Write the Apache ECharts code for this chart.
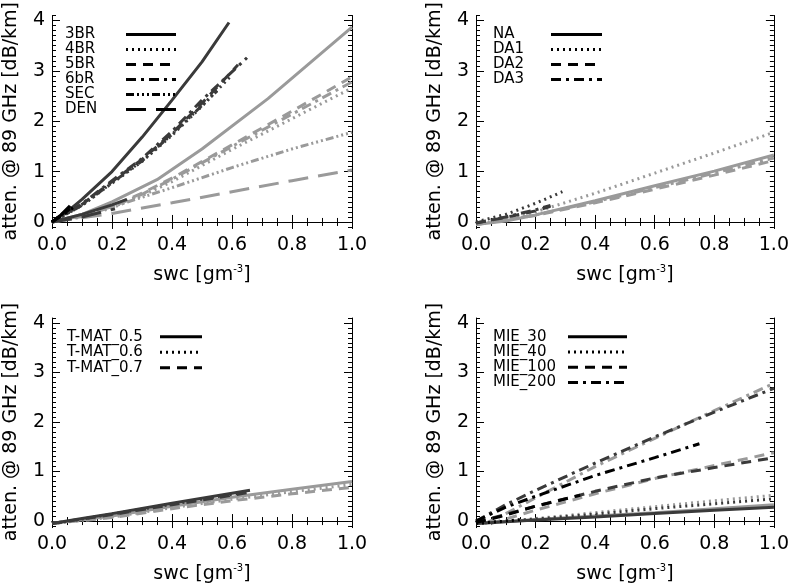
<!DOCTYPE html>
<html><head><meta charset="utf-8">
<script src="https://cdn.jsdelivr.net/npm/echarts@6/dist/echarts.min.js"></script>
<style>html,body{margin:0;padding:0;background:#fff}#c{width:792px;height:586px}</style>
</head><body><div id="c"></div>
<script>
// ---- tick labels / titles ----
const xTickValues = [0, 0.2, 0.4, 0.6, 0.8, 1.0];
const yTickValues = [0, 1, 2, 3, 4];
const xTitle = 'swc [gm{sup|-3}]';
const yTitle = 'atten. @ 89 GHz [dB/km]';

// ---- legend names ----
const legendA = ['3BR', '4BR', '5BR', '6bR', 'SEC', 'DEN'];
const legendB = ['NA', 'DA1', 'DA2', 'DA3'];
const legendC = ['T-MAT_0.5', 'T-MAT_0.6', 'T-MAT_0.7'];
const legendD = ['MIE_30', 'MIE_40', 'MIE_100', 'MIE_200'];

// ---- panel A (top-left) : [swc, attenuation] ----
const a3BR_gray  = [[0,0],[0.1,0.15],[0.2,0.4],[0.35,0.84],[0.5,1.45],[0.72,2.45],[1.0,3.87]];
const a4BR_gray  = [[0,0],[0.1,0.1],[0.2,0.28],[0.3,0.52],[0.4,0.8],[0.6,1.44],[0.8,2.05],[1.0,2.66]];
const a5BR_gray  = [[0,0],[0.1,0.12],[0.2,0.32],[0.3,0.57],[0.4,0.87],[0.6,1.53],[0.8,2.2],[1.0,2.88]];
const a6bR_gray  = [[0,0],[0.1,0.11],[0.2,0.3],[0.3,0.55],[0.4,0.85],[0.6,1.5],[0.8,2.14],[1.0,2.78]];
const aSEC_gray  = [[0,0],[0.2,0.3],[0.4,0.68],[0.6,1.08],[0.8,1.45],[1.0,1.78]];
const aDEN_gray  = [[0,0],[0.2,0.17],[0.4,0.38],[0.6,0.6],[0.8,0.82],[1.0,1.03]];
const a3BR_dark  = [[0,0],[0.05,0.2],[0.1,0.45],[0.2,1.0],[0.3,1.68],[0.4,2.42],[0.5,3.18],[0.59,3.96]];
const a3BR_dark2 = [[0,0],[0.1,0.15],[0.2,0.34],[0.25,0.45]];
const a4BR_dark  = [[0,0],[0.1,0.33],[0.2,0.77],[0.3,1.2],[0.4,1.72],[0.5,2.3],[0.6,2.92]];
const a5BR_dark  = [[0,0],[0.1,0.35],[0.2,0.8],[0.3,1.24],[0.4,1.76],[0.5,2.36],[0.62,3.12]];
const a6bR_dark  = [[0,0],[0.1,0.36],[0.2,0.82],[0.3,1.26],[0.4,1.8],[0.5,2.42],[0.65,3.26]];
const aSEC_dark  = [[0,0],[0.1,0.33],[0.2,0.78],[0.3,1.21],[0.4,1.74],[0.55,2.6]];
const aDEN_dark  = [[0,0],[0.1,0.1],[0.21,0.26]];
const a3BR_black = [[0,0],[0.03,0.14],[0.06,0.32]];
const a4BR_black = [[0,0],[0.065,0.3]];
const a5BR_black = [[0,0],[0.06,0.26]];
const a6bR_black = [[0,0],[0.07,0.28]];

// ---- panel B (top-right) ----
const bNA_gray  = [[0,-0.05],[0.1,0.02],[0.2,0.14],[0.4,0.42],[0.6,0.72],[0.8,1.01],[1.0,1.33]];
const bDA1_gray = [[0,-0.05],[0.1,0.05],[0.2,0.2],[0.4,0.57],[0.6,0.97],[0.8,1.37],[1.0,1.78]];
const bDA2_gray = [[0,-0.05],[0.2,0.13],[0.4,0.38],[0.6,0.65],[0.8,0.93],[1.0,1.22]];
const bDA3_gray = [[0,-0.05],[0.2,0.14],[0.4,0.4],[0.6,0.68],[0.8,0.97],[1.0,1.27]];
const bDA1_dark = [[0,0],[0.1,0.15],[0.2,0.37],[0.29,0.6]];
const bDA2_dark = [[0,-0.02],[0.1,0.09],[0.2,0.22],[0.25,0.31]];
const bDA3_dark = [[0,-0.02],[0.1,0.1],[0.2,0.24],[0.25,0.33]];

// ---- panel C (bottom-left) ----
const cT5_gray = [[0,-0.05],[0.2,0.1],[0.4,0.3],[0.6,0.48],[0.8,0.64],[1.0,0.8]];
const cT6_gray = [[0,-0.05],[0.2,0.08],[0.4,0.27],[0.6,0.44],[0.8,0.59],[1.0,0.74]];
const cT7_gray = [[0,-0.05],[0.2,0.07],[0.4,0.25],[0.6,0.41],[0.8,0.55],[1.0,0.68]];
const cT5_dark = [[0,-0.05],[0.1,0.05],[0.2,0.15],[0.4,0.36],[0.6,0.56],[0.66,0.62]];
const cT6_dark = [[0,-0.05],[0.1,0.04],[0.2,0.14],[0.4,0.34],[0.6,0.54],[0.65,0.59]];
const cT7_dark = [[0,-0.05],[0.1,0.04],[0.2,0.13],[0.4,0.33],[0.6,0.52],[0.65,0.57]];

// ---- panel D (bottom-right) ----
const dM30_gray   = [[0,-0.05],[0.2,0.03],[0.4,0.1],[0.6,0.17],[0.8,0.25],[1.0,0.33]];
const dM40_gray   = [[0,-0.05],[0.2,0.05],[0.4,0.17],[0.6,0.29],[0.8,0.41],[1.0,0.52]];
const dM100_gray  = [[0.05,-0.05],[0.2,0.22],[0.4,0.55],[0.6,0.86],[0.8,1.12],[1.0,1.38]];
const dM200_gray  = [[0.03,-0.05],[0.1,0.15],[0.2,0.47],[0.4,1.1],[0.6,1.67],[0.8,2.23],[1.0,2.78]];
const dM30_dark   = [[0,-0.05],[0.2,0.02],[0.4,0.08],[0.6,0.15],[0.8,0.22],[1.0,0.28]];
const dM40_dark   = [[0,-0.05],[0.2,0.04],[0.4,0.14],[0.6,0.25],[0.8,0.35],[1.0,0.45]];
const dM100_dark  = [[0,-0.03],[0.2,0.3],[0.4,0.6],[0.6,0.87],[0.8,1.08],[1.0,1.28]];
const dM200_dark  = [[0,0],[0.1,0.33],[0.2,0.62],[0.4,1.17],[0.6,1.7],[0.8,2.2],[1.0,2.68]];
const dM40_black  = [[0,-0.05],[0.1,0],[0.15,0.03]];
const dM100_black = [[0,-0.03],[0.1,0.12],[0.2,0.3],[0.35,0.52]];
const dM200_black = [[0,0],[0.1,0.28],[0.2,0.5],[0.4,0.92],[0.6,1.28],[0.75,1.56]];

// ---- styles ----
const FONT = 'DejaVu Sans';
const COL = { gray: '#9a9a9a', dark: '#3a3a3a', black: '#000000' };
const DASH = {
  solid: 'solid',
  dot: [2, 4],
  dash: [10, 7],
  dashdot: [10, 5, 3, 5],
  dash3dot: [8, 3, 2, 3, 2, 3, 2, 3],
  longdash: [20, 10]
};
const grids = [
  { left: 52, top: 15, width: 300, height: 212 },
  { left: 476, top: 15, width: 301, height: 212 },
  { left: 52, top: 318, width: 300, height: 212 },
  { left: 476, top: 318, width: 301, height: 212 }
];

const series = [];
function add(name, data, g, col, dash) {
  series.push({
    type: 'line', name: name, data: data, xAxisIndex: 2 * g, yAxisIndex: 4 * g,
    symbol: 'none', showSymbol: false, smooth: false, silent: true,
    lineStyle: { color: COL[col], width: 3, type: DASH[dash] }
  });
}
// panel A
add('3BR', a3BR_gray, 0, 'gray', 'solid');
add('4BR', a4BR_gray, 0, 'gray', 'dot');
add('5BR', a5BR_gray, 0, 'gray', 'dash');
add('6bR', a6bR_gray, 0, 'gray', 'dashdot');
add('SEC', aSEC_gray, 0, 'gray', 'dash3dot');
add('DEN', aDEN_gray, 0, 'gray', 'longdash');
add('3BR', a3BR_dark, 0, 'dark', 'solid');
add('3BR', a3BR_dark2, 0, 'dark', 'solid');
add('4BR', a4BR_dark, 0, 'dark', 'dot');
add('5BR', a5BR_dark, 0, 'dark', 'dash');
add('6bR', a6bR_dark, 0, 'dark', 'dashdot');
add('SEC', aSEC_dark, 0, 'dark', 'dash3dot');
add('DEN', aDEN_dark, 0, 'dark', 'longdash');
add('3BR', a3BR_black, 0, 'black', 'solid');
add('4BR', a4BR_black, 0, 'black', 'dot');
add('5BR', a5BR_black, 0, 'black', 'dash');
add('6bR', a6bR_black, 0, 'black', 'dashdot');
// panel B
add('NA', bNA_gray, 1, 'gray', 'solid');
add('DA1', bDA1_gray, 1, 'gray', 'dot');
add('DA2', bDA2_gray, 1, 'gray', 'dash');
add('DA3', bDA3_gray, 1, 'gray', 'dashdot');
add('DA1', bDA1_dark, 1, 'dark', 'dot');
add('DA2', bDA2_dark, 1, 'dark', 'dash');
add('DA3', bDA3_dark, 1, 'dark', 'dashdot');
// panel C
add('T-MAT_0.5', cT5_gray, 2, 'gray', 'solid');
add('T-MAT_0.6', cT6_gray, 2, 'gray', 'dot');
add('T-MAT_0.7', cT7_gray, 2, 'gray', 'dash');
add('T-MAT_0.5', cT5_dark, 2, 'dark', 'solid');
add('T-MAT_0.6', cT6_dark, 2, 'dark', 'dot');
add('T-MAT_0.7', cT7_dark, 2, 'dark', 'dash');
// panel D
add('MIE_30', dM30_gray, 3, 'gray', 'solid');
add('MIE_40', dM40_gray, 3, 'gray', 'dot');
add('MIE_100', dM100_gray, 3, 'gray', 'dash');
add('MIE_200', dM200_gray, 3, 'gray', 'dashdot');
add('MIE_30', dM30_dark, 3, 'dark', 'solid');
add('MIE_40', dM40_dark, 3, 'dark', 'dot');
add('MIE_100', dM100_dark, 3, 'dark', 'dash');
add('MIE_200', dM200_dark, 3, 'dark', 'dashdot');
add('MIE_40', dM40_black, 3, 'black', 'dot');
add('MIE_100', dM100_black, 3, 'black', 'dash');
add('MIE_200', dM200_black, 3, 'black', 'dashdot');

// ---- axes ----
const xAxes = [], yAxes = [];
const axLine = { show: true, lineStyle: { color: '#000', width: 1 } };
grids.forEach(function (gr, g) {
  xAxes.push({
    type: 'value', gridIndex: g, position: 'bottom', min: 0, max: 1, interval: 0.2,
    axisLine: axLine, splitLine: { show: false },
    axisTick: { show: true, inside: true, length: 7, lineStyle: { color: '#000' } },
    minorTick: { show: true, splitNumber: 4, length: 4, lineStyle: { color: '#000' } },
    axisLabel: { margin: 9, fontFamily: FONT, fontSize: 19, color: '#000',
      formatter: function (v) { return v.toFixed(1); } },
    name: xTitle, nameLocation: 'middle', nameGap: 37,
    nameTextStyle: { fontFamily: FONT, fontSize: 19, color: '#000', lineHeight: 22,
      rich: { sup: { fontFamily: FONT, fontSize: 10, color: '#000', verticalAlign: 'top', lineHeight: 22 } } }
  });
  xAxes.push({
    type: 'value', gridIndex: g, position: 'top', min: 0, max: 1, interval: 0.2,
    axisLine: axLine, splitLine: { show: false }, axisLabel: { show: false },
    axisTick: { show: true, inside: true, length: 7, lineStyle: { color: '#000' } },
    minorTick: { show: true, splitNumber: 4, length: 4, lineStyle: { color: '#000' } }
  });
  ['left', 'right'].forEach(function (side) {
    yAxes.push({
      type: 'value', gridIndex: g, position: side, min: -0.1, max: 4.1,
      axisLine: axLine, splitLine: { show: false },
      axisTick: { show: true, inside: true, length: 8, customValues: yTickValues, lineStyle: { color: '#000' } },
      axisLabel: side === 'left'
        ? { show: true, customValues: yTickValues, margin: 7, fontFamily: FONT, fontSize: 19, color: '#000' }
        : { show: false },
      name: side === 'left' ? yTitle : '', nameLocation: 'middle', nameRotate: 90, nameGap: 31,
      nameTextStyle: { fontFamily: FONT, fontSize: 19, color: '#000' }
    });
    yAxes.push({
      type: 'value', gridIndex: g, position: side, min: -0.1, max: 4.1, interval: 0.1,
      axisLine: { show: false }, splitLine: { show: false }, axisLabel: { show: false },
      axisTick: { show: true, inside: true, length: 4, lineStyle: { color: '#000' } }
    });
  });
});

// ---- legends ----
const legendDash = {
  '3BR': 'solid', '4BR': 'dot', '5BR': 'dash', '6bR': 'dashdot', 'SEC': 'dash3dot', 'DEN': 'longdash',
  'NA': 'solid', 'DA1': 'dot', 'DA2': 'dash', 'DA3': 'dashdot',
  'T-MAT_0.5': 'solid', 'T-MAT_0.6': 'dot', 'T-MAT_0.7': 'dash',
  'MIE_30': 'solid', 'MIE_40': 'dot', 'MIE_100': 'dash', 'MIE_200': 'dashdot'
};
function legend(names, left, top, textW, iconW, rowH) {
  return {
    orient: 'vertical', left: left, top: top, padding: 0, itemGap: 0,
    itemWidth: iconW, itemHeight: 10, align: 'right', selectedMode: false,
    formatter: '{t|{name}}',
    textStyle: { fontFamily: FONT, fontSize: 15, color: '#000', lineHeight: rowH, padding: 0,
      rich: { t: { fontFamily: FONT, fontSize: 15, color: '#000', width: textW, align: 'left', lineHeight: rowH } } },
    data: names.map(function (n) {
      return { name: n, lineStyle: { color: '#000', width: 3, type: DASH[legendDash[n]] },
        itemStyle: { color: 'rgba(0,0,0,0)', borderColor: 'rgba(0,0,0,0)', borderWidth: 0, opacity: 0 } };
    })
  };
}

const chart = echarts.init(document.getElementById('c'), null, { renderer: 'canvas' });
chart.setOption({
  backgroundColor: '#fff',
  animation: false,
  grid: grids,
  xAxis: xAxes,
  yAxis: yAxes,
  legend: [
    legend(legendA, 65, 27, 56, 50, 14.5),
    legend(legendB, 493, 27, 53, 51, 14.7),
    legend(legendC, 67, 329, 88, 42, 15.5),
    legend(legendD, 493, 329, 70, 59, 15.3)
  ],
  series: series
});
</script>
</body></html>
